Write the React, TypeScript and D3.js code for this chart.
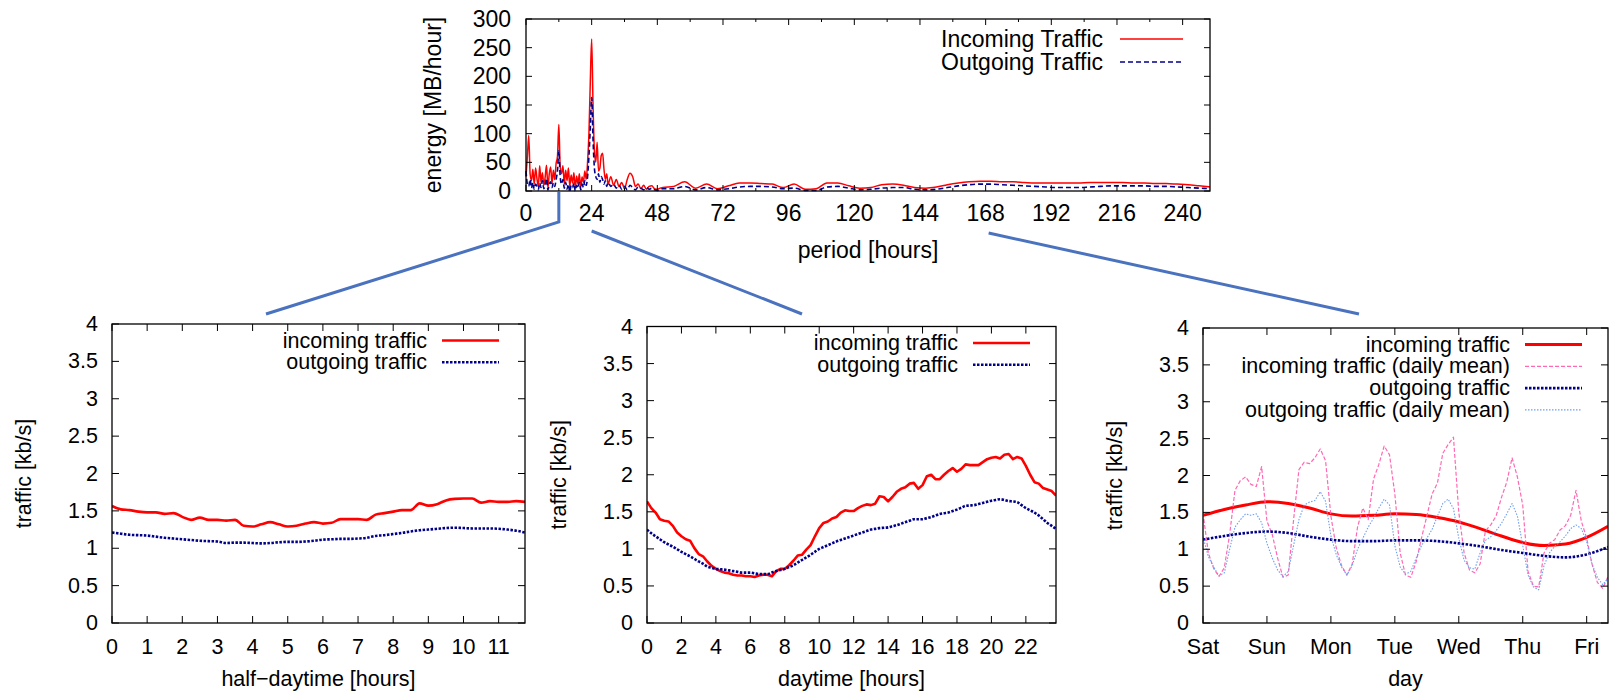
import * as d3 from "d3";

const W = 1611;
const H = 693;
const FONT = "'Liberation Sans', Arial, Helvetica, sans-serif";

// ---- top panel: periodogram of the traffic ----
const periodHours = [...d3.range(0, 30, 0.5), ...d3.range(30, 50, 1), ...d3.range(50, 250, 4), 250];
const energyIn = [
  25, 60, 97, 30, 18, 38, 12, 40, 22, 8,
  44, 15, 32, 10, 24, 45, 6, 30, 42, 14,
  36, 20, 48, 60, 116, 42, 30, 44, 12, 36,
  18, 40, 8, 28, 14, 32, 5, 26, 12, 30,
  6, 25, 15, 35, 20, 50, 100, 190, 265, 150,
  70, 50, 85, 35, 40, 62, 66, 38, 20, 30,
  12, 25, 10, 20, 8, 15, 4, 20, 31, 25,
  8, 12, 4, 10, 3, 8, 9, 4, 3, 5,
  6, 8, 16, 5, 12, 4, 9, 14, 14, 13,
  12, 6, 12, 3, 4, 14, 14, 9, 5, 6,
  11, 12, 10, 6, 5, 7, 11, 14, 16, 17,
  17, 16, 16, 15, 14, 14, 14, 14, 14, 15,
  15, 15, 15, 14, 14, 13, 13, 12, 11, 9,
  7,
];
const energyOut = [
  35, 12, 8, 20, 5, 15, 3, 12, 8, 2,
  14, 6, 18, 4, 10, 22, 2, 12, 16, 6,
  14, 8, 20, 35, 70, 25, 12, 20, 5, 15,
  3, 12, -2, 10, 6, 14, 0, 10, 5, 15,
  2, 12, 6, 18, 10, 25, 60, 110, 163, 90,
  40, 25, 20, 30, 15, 25, 20, 12, 18, 8,
  15, 8, 12, 5, 10, 3, 8, 2, 10, 6,
  2, 7, 5, 2, 6, 3, 5, 2, 1, 3,
  4, 4, 8, 2, 6, 2, 4, 7, 8, 8,
  7, 4, 5, 1, 1, 7, 8, 5, 2, 3,
  5, 6, 6, 3, 2, 3, 6, 9, 11, 12,
  12, 11, 10, 9, 8, 7, 6, 6, 6, 7,
  8, 9, 9, 9, 9, 8, 8, 7, 6, 5,
  4,
];
const periodTicks = d3.range(0, 241, 24);
const periodMinor = d3.range(12, 250, 24);
const energyTicks = d3.range(0, 301, 50);

// ---- half-daytime panel ----
const halfDayHours = d3.range(0, 11.76, 0.25);
const halfDayIn = [
  1.565, 1.52, 1.51, 1.49, 1.48, 1.48, 1.46, 1.47, 1.42, 1.38, 1.41, 1.38,
  1.38, 1.37, 1.38, 1.3, 1.29, 1.32, 1.35, 1.32, 1.29, 1.3, 1.33, 1.35,
  1.33, 1.34, 1.39, 1.39, 1.39, 1.38, 1.45, 1.47, 1.49, 1.51, 1.51, 1.6,
  1.57, 1.59, 1.64, 1.66, 1.665, 1.665, 1.61, 1.63, 1.62, 1.62, 1.63, 1.62,
];
const halfDayOut = [
  1.21, 1.195, 1.18, 1.175, 1.17, 1.155, 1.14, 1.13, 1.12, 1.11, 1.1, 1.095,
  1.09, 1.07, 1.075, 1.075, 1.07, 1.065, 1.07, 1.08, 1.085, 1.085, 1.09, 1.1,
  1.115, 1.12, 1.125, 1.125, 1.13, 1.14, 1.165, 1.175, 1.19, 1.205, 1.225, 1.24,
  1.25, 1.26, 1.27, 1.275, 1.27, 1.265, 1.265, 1.265, 1.26, 1.25, 1.235, 1.21,
];
const halfDayTicks = d3.range(0, 12, 1);

// ---- daytime panel ----
const dayHours = d3.range(0, 23.76, 0.25);
const dayIn = [
  1.64, 1.55, 1.49, 1.4, 1.38, 1.37, 1.31, 1.22, 1.17, 1.13, 1.11, 1.01,
  0.93, 0.9, 0.83, 0.77, 0.73, 0.7, 0.68, 0.67, 0.65, 0.64, 0.64, 0.63,
  0.63, 0.62, 0.64, 0.65, 0.65, 0.63, 0.7, 0.73, 0.73, 0.78, 0.84, 0.91,
  0.92, 0.99, 1.05, 1.17, 1.28, 1.35, 1.37, 1.41, 1.43, 1.49, 1.52, 1.51,
  1.51, 1.55, 1.58, 1.6, 1.59, 1.61, 1.71, 1.7, 1.64, 1.7, 1.77, 1.81,
  1.83, 1.88, 1.89, 1.81, 1.86, 1.98, 2.0, 1.94, 1.94, 2.0, 2.05, 2.09,
  2.04, 2.08, 2.14, 2.13, 2.13, 2.13, 2.17, 2.21, 2.23, 2.24, 2.22, 2.27,
  2.28, 2.21, 2.24, 2.22, 2.12, 2.0, 1.9, 1.88, 1.82, 1.8, 1.78, 1.72,
];
const dayOut = [
  1.26, 1.21, 1.17, 1.13, 1.09, 1.06, 1.03, 0.995, 0.96, 0.93, 0.9, 0.865,
  0.83, 0.8, 0.76, 0.745, 0.73, 0.725, 0.72, 0.71, 0.7, 0.69, 0.68, 0.68,
  0.68, 0.67, 0.66, 0.66, 0.66, 0.68, 0.7, 0.715, 0.73, 0.755, 0.78, 0.815,
  0.85, 0.885, 0.92, 0.96, 1.0, 1.025, 1.05, 1.075, 1.1, 1.12, 1.14, 1.16,
  1.18, 1.2, 1.22, 1.24, 1.26, 1.27, 1.28, 1.285, 1.29, 1.305, 1.32, 1.34,
  1.36, 1.38, 1.4, 1.4, 1.4, 1.415, 1.43, 1.45, 1.47, 1.48, 1.49, 1.51,
  1.53, 1.555, 1.58, 1.585, 1.59, 1.605, 1.62, 1.635, 1.65, 1.66, 1.67, 1.66,
  1.645, 1.64, 1.63, 1.59, 1.55, 1.52, 1.49, 1.45, 1.4, 1.35, 1.31, 1.27,
];
const dayTicks = d3.range(0, 23, 2);

// ---- week panel ----
const weekDays = ["Sat", "Sun", "Mon", "Tue", "Wed", "Thu", "Fri"];
const weekSmoothHours = d3.range(0, 153, 8);
const weekIn = [1.46, 1.54, 1.6, 1.645, 1.62, 1.56, 1.48, 1.45, 1.46, 1.48, 1.47, 1.43, 1.37, 1.28, 1.18, 1.09, 1.05, 1.07, 1.16, 1.31];
const weekOut = [1.13, 1.18, 1.22, 1.24, 1.22, 1.17, 1.13, 1.11, 1.11, 1.12, 1.12, 1.11, 1.08, 1.04, 0.99, 0.95, 0.91, 0.89, 0.93, 1.03];
const weekHours = d3.range(0, 153, 2);
const weekInDaily = [
  1.49, 0.95, 0.74, 0.63, 0.75, 1.2, 1.8, 1.93, 1.98, 1.88,
  1.85, 2.12, 1.38, 1.2, 0.88, 0.62, 0.65, 1.4, 2.08, 2.18,
  2.16, 2.24, 2.36, 2.2, 1.45, 1.02, 0.78, 0.65, 0.8, 1.3,
  1.56, 1.4, 1.95, 2.15, 2.4, 2.28, 1.75, 0.95, 0.65, 0.62,
  0.83, 1.15, 1.45, 1.75, 1.9, 2.3, 2.42, 2.52, 1.5, 0.95,
  0.72, 0.68, 0.8, 1.25, 1.33, 1.45, 1.7, 1.91, 2.24, 1.98,
  1.6, 0.7, 0.5, 0.49, 0.95, 1.08, 1.13, 1.26, 1.32, 1.46,
  1.8, 1.38, 1.15, 0.8, 0.55, 0.47, 0.63,
];
const weekOutDaily = [
  1.17, 0.9, 0.76, 0.64, 0.68, 1.0, 1.3, 1.4, 1.48, 1.46,
  1.48, 1.36, 1.08, 0.88, 0.72, 0.63, 0.7, 1.05, 1.4, 1.6,
  1.64, 1.66, 1.78, 1.65, 1.18, 0.93, 0.76, 0.65, 0.78, 1.0,
  1.15, 1.3, 1.42, 1.56, 1.68, 1.6, 1.05, 0.76, 0.66, 0.7,
  0.88, 1.05, 1.15, 1.27, 1.45, 1.62, 1.68, 1.55, 1.15, 0.85,
  0.75, 0.73, 0.95, 1.12, 1.17, 1.25, 1.35, 1.48, 1.62, 1.45,
  1.05, 0.65, 0.49, 0.45, 0.78, 0.95, 1.04, 1.1, 1.18, 1.28,
  1.33, 1.28, 1.1, 0.8, 0.62, 0.52, 0.6,
];
const trafficTicks = d3.range(0, 4.01, 0.5);

const RED = "#ff0000";
const NAVY = "#00008b";
const PINK = "#ff69b4";
const LIGHTBLUE = "#6f9ff0";
const CONNECT = "#4a72be";

type Series = {
  xs: number[];
  ys: number[];
  color: string;
  width: number;
  dash?: string;
  curve?: d3.CurveFactory;
  label: string;
};

type Frame = { l: number; r: number; t: number; b: number };

type PanelProps = {
  id: string;
  frame: Frame;
  xDomain: [number, number];
  yDomain: [number, number];
  xTicks: { v: number; label: string }[];
  xMinor?: number[];
  yTicks: number[];
  series: Series[];
  fs: number;
  xTitle: string;
  yTitle: string;
  tick: number;
  yLabelGap: number;
  xLabelOff: number;
  xTitleY: number;
  yTitleOff: number;
  legText: number;
  legLine: [number, number];
  legTop: number;
  legStep: number;
  clip?: boolean;
};

const Panel = (p: PanelProps) => {
  const { frame: f } = p;
  const x = d3.scaleLinear().domain(p.xDomain).range([f.l, f.r]);
  const y = d3.scaleLinear().domain(p.yDomain).range([f.b, f.t]);
  const minorLen = p.tick / 2;

  return (
    <g fontFamily={FONT} fontSize={p.fs} fill="#000">
      {p.clip && (
        <clipPath id={p.id}>
          <rect x={f.l} y={f.t} width={f.r - f.l} height={f.b - f.t} />
        </clipPath>
      )}

      {/* data */}
      <g clipPath={p.clip ? `url(#${p.id})` : undefined}>
        {p.series.map((s, k) => {
          const line = d3
            .line<number>()
            .x((_, i) => x(s.xs[i]))
            .y((d) => y(d))
            .curve(s.curve ?? d3.curveLinear);
          return (
            <path
              key={k}
              d={line(s.ys) ?? ""}
              fill="none"
              stroke={s.color}
              strokeWidth={s.width}
              strokeDasharray={s.dash}
              strokeLinejoin="round"
            />
          );
        })}
      </g>

      {/* ticks, mirrored on all sides */}
      <g stroke="#000" strokeWidth={1}>
        {p.yTicks.map((v) => (
          <g key={`y${v}`}>
            <line x1={f.l} x2={f.l + p.tick} y1={y(v)} y2={y(v)} />
            <line x1={f.r} x2={f.r - p.tick} y1={y(v)} y2={y(v)} />
          </g>
        ))}
        {p.xTicks.map((t) => (
          <g key={`x${t.v}`}>
            <line x1={x(t.v)} x2={x(t.v)} y1={f.b} y2={f.b - p.tick} />
            <line x1={x(t.v)} x2={x(t.v)} y1={f.t} y2={f.t + p.tick} />
          </g>
        ))}
        {(p.xMinor ?? []).map((v) => (
          <g key={`m${v}`}>
            <line x1={x(v)} x2={x(v)} y1={f.b} y2={f.b - minorLen} />
            <line x1={x(v)} x2={x(v)} y1={f.t} y2={f.t + minorLen} />
          </g>
        ))}
      </g>

      <rect x={f.l} y={f.t} width={f.r - f.l} height={f.b - f.t} fill="none" stroke="#000" strokeWidth={1.3} />

      {/* tick labels */}
      {p.yTicks.map((v) => (
        <text key={`yl${v}`} x={f.l - p.yLabelGap} y={y(v)} textAnchor="end" dominantBaseline="central">
          {String(v)}
        </text>
      ))}
      {p.xTicks.map((t) => (
        <text key={`xl${t.v}`} x={x(t.v)} y={f.b + p.xLabelOff} textAnchor="middle" dominantBaseline="central">
          {t.label}
        </text>
      ))}

      {/* axis titles */}
      <text x={(f.l + f.r) / 2} y={p.xTitleY} textAnchor="middle" dominantBaseline="central">
        {p.xTitle}
      </text>
      <text
        transform={`translate(${f.l - p.yTitleOff},${(f.t + f.b) / 2}) rotate(-90)`}
        textAnchor="middle"
        dominantBaseline="central"
      >
        {p.yTitle}
      </text>

      {/* legend */}
      {p.series.map((s, k) => {
        const ly = f.t + p.legTop + k * p.legStep;
        return (
          <g key={`lg${k}`}>
            <text x={f.r - p.legText} y={ly} textAnchor="end" dominantBaseline="central">
              {s.label}
            </text>
            <line
              x1={f.r - p.legLine[0]}
              x2={f.r - p.legLine[1]}
              y1={ly}
              y2={ly}
              stroke={s.color}
              strokeWidth={s.width}
              strokeDasharray={s.dash}
            />
          </g>
        );
      })}
    </g>
  );
};

const bottomCommon = {
  yDomain: [0, 4] as [number, number],
  yTicks: trafficTicks,
  fs: 21.5,
  yTitle: "traffic [kb/s]",
  tick: 7,
  yLabelGap: 14,
  xLabelOff: 24,
  xTitleY: 679,
  yTitleOff: 88,
  legText: 98,
  legLine: [83, 26] as [number, number],
  legTop: 16.5,
  legStep: 21.8,
  clip: true,
};

export default function App() {
  const topFrame = { l: 526, r: 1210, t: 19, b: 191 };
  const xTop = d3.scaleLinear().domain([0, 250]).range([topFrame.l, topFrame.r]);

  return (
    <div style={{ position: "absolute", left: 0, top: 0, width: W, height: H, background: "#fff" }}>
      <svg width={W} height={H} viewBox={`0 0 ${W} ${H}`} style={{ display: "block" }}>
        <rect width={W} height={H} fill="#fff" />

        {/* connectors from the periodogram down to the detail panels */}
        <g stroke={CONNECT} strokeWidth={3} fill="none" strokeLinecap="butt">
          <polyline points={`${xTop(12)},192 ${xTop(12)},222 266,314`} />
          <line x1={xTop(24)} y1={231} x2={802} y2={314} />
          <line x1={xTop(168) + 3} y1={233} x2={1359} y2={314} />
        </g>

        <Panel
          id="top"
          frame={topFrame}
          xDomain={[0, 250]}
          yDomain={[0, 300]}
          xTicks={periodTicks.map((v) => ({ v, label: String(v) }))}
          xMinor={periodMinor}
          yTicks={energyTicks}
          series={[
            { xs: periodHours, ys: energyIn, color: RED, width: 1.5, label: "Incoming Traffic", curve: d3.curveMonotoneX },
            { xs: periodHours, ys: energyOut, color: NAVY, width: 1.6, dash: "5,3", label: "Outgoing Traffic", curve: d3.curveMonotoneX },
          ]}
          fs={23}
          xTitle="period [hours]"
          yTitle="energy [MB/hour]"
          tick={6}
          yLabelGap={15}
          xLabelOff={22}
          xTitleY={250}
          yTitleOff={93}
          legText={107}
          legLine={[90, 27]}
          legTop={20}
          legStep={23}
        />

        <Panel
          id="halfday"
          frame={{ l: 112, r: 525, t: 324, b: 623 }}
          xDomain={[0, 11.75]}
          xTicks={halfDayTicks.map((v) => ({ v, label: String(v) }))}
          series={[
            { xs: halfDayHours, ys: halfDayIn, color: RED, width: 2.6, label: "incoming traffic", curve: d3.curveMonotoneX },
            { xs: halfDayHours, ys: halfDayOut, color: NAVY, width: 2.6, dash: "2.5,1.5", label: "outgoing traffic", curve: d3.curveMonotoneX },
          ]}
          xTitle={"half\u2212daytime [hours]"}
          {...bottomCommon}
        />

        <Panel
          id="daytime"
          frame={{ l: 647, r: 1056, t: 326.5, b: 623 }}
          xDomain={[0, 23.75]}
          xTicks={dayTicks.map((v) => ({ v, label: String(v) }))}
          series={[
            { xs: dayHours, ys: dayIn, color: RED, width: 2.6, label: "incoming traffic" },
            { xs: dayHours, ys: dayOut, color: NAVY, width: 2.6, dash: "2.5,1.5", label: "outgoing traffic", curve: d3.curveMonotoneX },
          ]}
          xTitle="daytime [hours]"
          {...bottomCommon}
        />

        <Panel
          id="week"
          frame={{ l: 1203, r: 1608, t: 328, b: 623 }}
          xDomain={[0, 152]}
          xTicks={weekDays.map((d, i) => ({ v: i * 24, label: d }))}
          series={[
            { xs: weekSmoothHours, ys: weekIn, color: RED, width: 3, label: "incoming traffic", curve: d3.curveMonotoneX },
            { xs: weekHours, ys: weekInDaily, color: PINK, width: 1.2, dash: "4,2", label: "incoming traffic (daily mean)" },
            { xs: weekSmoothHours, ys: weekOut, color: NAVY, width: 2.6, dash: "2.5,1.5", label: "outgoing traffic", curve: d3.curveMonotoneX },
            { xs: weekHours, ys: weekOutDaily, color: LIGHTBLUE, width: 1.1, dash: "1.5,1.5", label: "outgoing traffic (daily mean)" },
          ]}
          xTitle="day"
          {...bottomCommon}
        />
      </svg>
    </div>
  );
}
